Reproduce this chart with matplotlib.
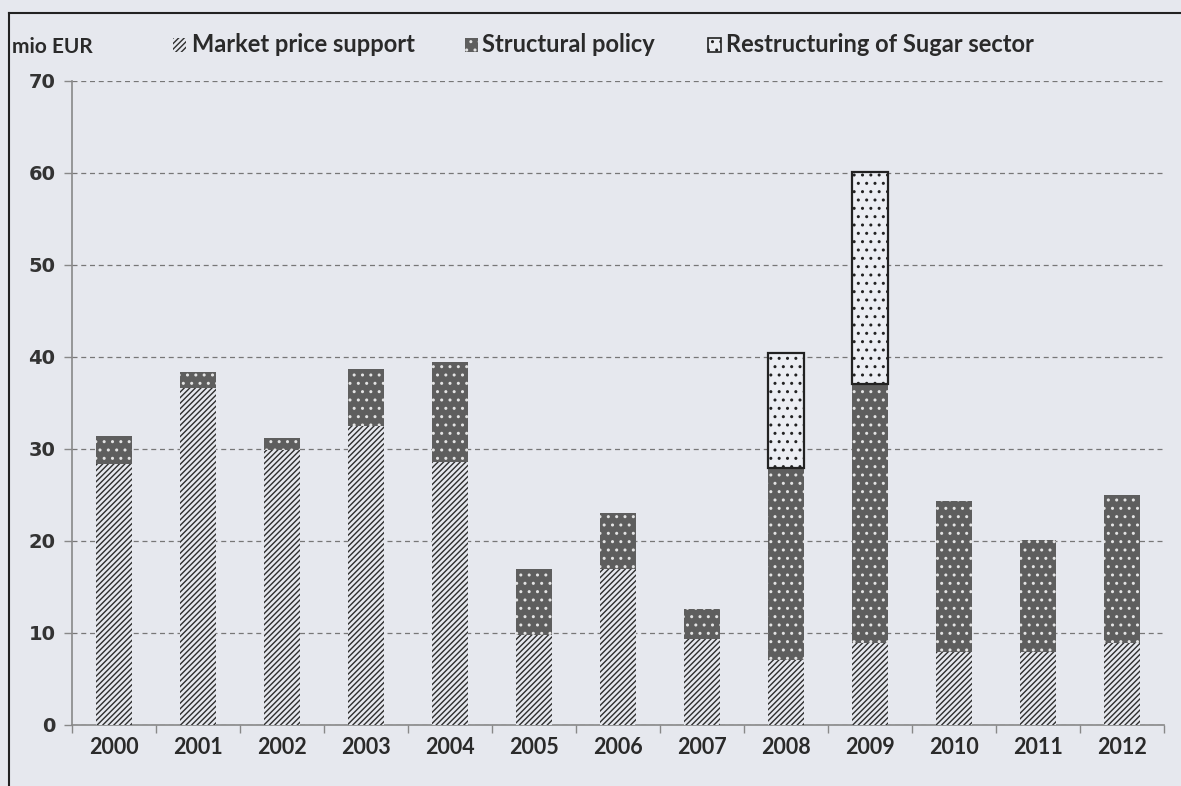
import matplotlib
matplotlib.use("Agg")
import matplotlib.pyplot as plt
from matplotlib.patches import Rectangle
from matplotlib.lines import Line2D
import numpy as np

years = ["2000", "2001", "2002", "2003", "2004", "2005", "2006",
         "2007", "2008", "2009", "2010", "2011", "2012"]
market_price_support = [28.4, 36.6, 29.9, 32.5, 28.6, 9.8, 17.0, 9.4, 7.1, 8.9, 7.9, 7.9, 8.9]
structural_policy = [3.0, 1.8, 1.3, 6.2, 10.9, 7.2, 6.0, 3.2, 20.8, 28.2, 16.4, 12.2, 16.1]
sugar_restructuring = [0, 0, 0, 0, 0, 0, 0, 0, 12.5, 23.0, 0, 0, 0]
series_names = ["Market price support", "Structural policy", "Restructuring of Sugar sector"]
yticks = [0, 10, 20, 30, 40, 50, 60, 70]

BG = "#e6e8ee"
W, H = 1181, 786
fig = plt.figure(figsize=(W / 100, H / 100), dpi=100, facecolor=BG)
ax = fig.add_axes([72 / W, 1 - 725 / H, (1164 - 72) / W, (725 - 81) / H])
ax.set_facecolor(BG)

x = np.arange(len(years))
width = 0.42
mps = np.array(market_price_support)
sp = np.array(structural_policy)
su = np.array(sugar_restructuring)

ax.bar(x, mps, width, facecolor=BG, edgecolor="#2e2e2e", hatch="//////",
       linewidth=0, zorder=3)
ax.bar(x, sp, width, bottom=mps, facecolor="#5e5e5e", edgecolor="#e4e4e4",
       hatch="..", linewidth=0, zorder=3)
mask = su > 0
ax.bar(x[mask], su[mask], width, bottom=(mps + sp)[mask], facecolor="#eceef3",
       edgecolor="#222222", hatch="..", linewidth=1.6, zorder=3)

ax.set_ylim(0, 70)
ax.set_xlim(-0.5, len(years) - 0.5)
ax.set_yticks(yticks)
ax.set_yticklabels([str(v) for v in yticks], fontfamily="DejaVu Sans",
                   fontweight="bold", fontsize=14, color="#333333")
ax.yaxis.grid(True, linestyle=(0, (4, 3)), color="#777777", linewidth=0.9, zorder=0)
ax.set_xticks(x)
ax.set_xticklabels(years, fontfamily="Lato", fontweight="bold", fontsize=15.5, color="#2a2a2a")
ax.set_xticks(np.arange(-0.5, len(years), 1), minor=True)
ax.tick_params(axis="x", which="major", length=0, pad=9)
ax.tick_params(axis="x", which="minor", length=6, width=1, color="#888888", direction="out")
ax.tick_params(axis="y", which="major", length=6, width=1, color="#888888", direction="out", pad=6)
for s in ["top", "right"]:
    ax.spines[s].set_visible(False)
for s in ["left", "bottom"]:
    ax.spines[s].set_color("#888888")
    ax.spines[s].set_linewidth(1.2)

# figure frame lines (left and top)
fig.add_artist(Line2D([9 / W, 9 / W], [0, 1 - 13 / H], transform=fig.transFigure,
                      color="#222222", linewidth=1.5))
fig.add_artist(Line2D([9 / W, 1], [1 - 13 / H, 1 - 13 / H], transform=fig.transFigure,
                      color="#222222", linewidth=1.5))

# y unit label
fig.text(12 / W, 1 - 47 / H, "mio EUR", fontfamily="Lato", fontweight="bold",
         fontsize=15, color="#2a2a2a", va="center", ha="left")

# legend (manual)
ly = 1 - 45 / H
hs = 13
styles = [
    dict(facecolor=BG, edgecolor="#2e2e2e", hatch="//////", linewidth=0),
    dict(facecolor="#5e5e5e", edgecolor="#e4e4e4", hatch="..", linewidth=0),
    dict(facecolor="#eceef3", edgecolor="#222222", hatch="..", linewidth=1.2),
]
hx = [173, 465, 708]
tx = [192, 482, 726]
for name, st, h0, t0 in zip(series_names, styles, hx, tx):
    fig.add_artist(Rectangle((h0 / W, ly - hs / 2 / H), hs / W, hs / H,
                             transform=fig.transFigure, **st))
    fig.text(t0 / W, ly, name, fontfamily="Lato", fontweight="bold", fontsize=17,
             color="#2a2a2a", va="center", ha="left")

fig.savefig("out.png", dpi=100, facecolor=BG)
